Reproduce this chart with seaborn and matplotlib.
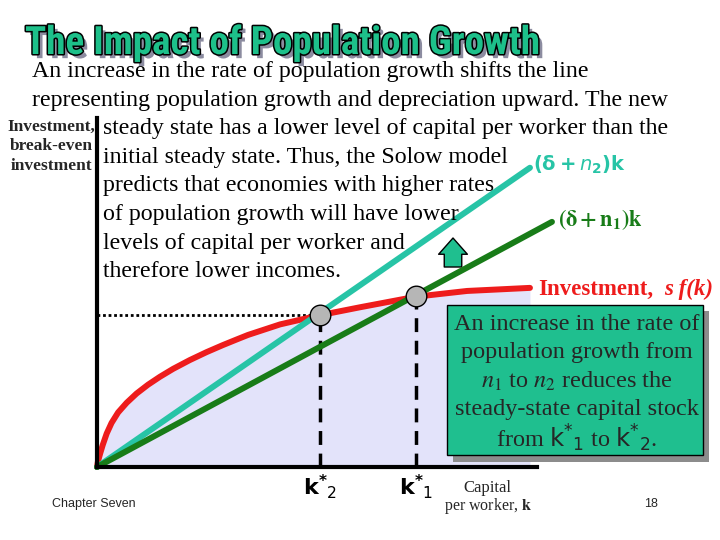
import numpy as np
import pandas as pd
import seaborn as sns
import matplotlib.pyplot as plt
import matplotlib.patheffects as pe
from matplotlib.patches import Rectangle
from matplotlib.transforms import Affine2D, blended_transform_factory

# Data (k on the x axis, axis drawn from 0 to 10)
curve_k = [0, 0.02, 0.07, 0.13, 0.22, 0.33, 0.48, 0.675, 0.9, 1.16, 1.43, 1.73,
           2.11, 2.49, 2.86, 3.18, 3.43, 4.16, 5.07, 5.98, 7.25, 8.41, 9.84]
curve_y = [0, 0.12, 0.30, 0.50, 0.76, 1.0, 1.24, 1.46, 1.67, 1.87, 2.05, 2.23,
           2.43, 2.61, 2.77, 2.90, 3.00, 3.24, 3.45, 3.63, 3.87, 4.00, 4.07]
n2_k = [0, 9.84]
n2_y = [0, 6.80]
n1_k = [0, 10.34]
n1_y = [0, 5.57]
ss_k = [5.07, 7.25]      # k*2, k*1
ss_y = [3.45, 3.89]
ss_labels = ["2", "1"]
x_max, y_max = 10, 7.93

body_lines = [
    "An increase in the rate of population growth shifts the line",
    "representing population growth and depreciation upward. The new",
    "steady state has a lower level of capital per worker than the",
    "initial steady state. Thus, the Solow model",
    "predicts that economies with higher rates",
    "of population growth will have lower",
    "levels of capital per worker and",
    "therefore lower incomes.",
]
box_lines = [
    "An increase in the rate of",
    "population growth from",
    r"$n_1$ to $n_2$ reduces the",
    "steady-state capital stock",
    r"from $\mathrm{k}{}^{*}{}_{1}$ to $\mathrm{k}{}^{*}{}_{2}$.",
]
ylabel_lines = ["Investment,", "break-even", "investment"]

red = "#ee1c1c"
teal = "#27c4a6"
green = "#187c18"
box_green = "#1fbf8f"
title_green = "#1dc08a"
lavender = "#e3e3fa"

sns.set_theme(style="white")
plt.rcParams["mathtext.fontset"] = "stix"
serif = ["Liberation Serif", "DejaVu Serif"]
narrow = ["Roboto Condensed", "Liberation Sans Narrow", "DejaVu Sans Condensed",
          "Liberation Sans", "DejaVu Sans"]

fig = plt.figure(figsize=(7.2, 5.4), dpi=100)
pix = Affine2D().scale(1 / 720, -1 / 540).translate(0, 1) + fig.transFigure

ax = fig.add_axes([97 / 720, 73 / 540, 440 / 720, 349 / 540])
ax.set_xlim(0, x_max)
ax.set_ylim(0, y_max)
ax.set_xticks([])
ax.set_yticks([])
ax.patch.set_alpha(0)
for side in ["top", "right"]:
    ax.spines[side].set_visible(False)
for side in ["left", "bottom"]:
    ax.spines[side].set_linewidth(3)
    ax.spines[side].set_color("black")
    ax.spines[side].set_zorder(6)

ax.fill_between(curve_k, curve_y, color=lavender, lw=0, zorder=0)
sns.lineplot(x=curve_k, y=curve_y, ax=ax, color=red, lw=4.3, zorder=3,
             clip_on=False, sort=False)
sns.lineplot(x=n2_k, y=n2_y, ax=ax, color=teal, lw=4.3, zorder=4, clip_on=False)
sns.lineplot(x=n1_k, y=n1_y, ax=ax, color=green, lw=4.3, zorder=4, clip_on=False)

ax.plot([0, ss_k[0]], [ss_y[0], ss_y[0]], color="black", lw=2,
        ls=(0, (1, 1)), zorder=2)
for k, y in zip(ss_k, ss_y):
    ax.plot([k, k], [0, y], color="black", lw=2.5, ls=(0, (4, 2.5)), zorder=2)
sns.scatterplot(x=ss_k, y=ss_y, ax=ax, s=220, color="#b6b6b6",
                edgecolor="black", linewidth=1, zorder=7, clip_on=False)

# k* labels under the axis
lab_tr = blended_transform_factory(ax.transData, pix)
for k, sub in zip(ss_k, ss_labels):
    ax.text(k, 487, r"$\mathbf{k}{}^{\mathbf{*}}{}_{\mathrm{%s}}$" % sub,
            transform=lab_tr, ha="center", va="center", fontsize=16,
            math_fontfamily="dejavusans", color="black")

# title, scaled to the width it has on the slide
title = fig.text(25, 54, "The Impact of Population Growth", transform=pix,
                 fontsize=36, fontweight="bold", family=narrow,
                 color=title_green, ha="left", va="baseline",
                 path_effects=[pe.withSimplePatchShadow(offset=(3, -3),
                                                        shadow_rgbFace="#8c8ca0", alpha=1),
                               pe.Stroke(linewidth=2.2, foreground="black"), pe.Normal()])
fig.canvas.draw()
title.set_fontsize(min(40, 36 * 515 / title.get_window_extent().width))

# body text
for i, line in enumerate(body_lines):
    x0 = 32 if i < 2 else 103
    fig.text(x0, 77 + i * 28.6, line, transform=pix, fontsize=17.2,
             family=serif, ha="left", va="baseline", color="black")

for i, line in enumerate(ylabel_lines):
    fig.text(51, 127 + i * 19.5, line, transform=pix, fontsize=12.5,
             fontweight="bold", family=serif, ha="center", va="center")

# line labels
fig.text(533, 165, r"$\mathbf{(\delta+}n_{\mathbf{2}}\mathbf{)k}$", transform=pix,
         fontsize=14, color=teal, ha="left", va="center",
         math_fontfamily="dejavusans")
fig.text(558, 220, r"$\mathbf{(\delta + n_1)k}$", transform=pix,
         fontsize=16, color=green, ha="left", va="center")
fig.text(538, 289, "Investment,", transform=pix, fontsize=16.5,
         fontweight="bold", family=serif, color=red, ha="left", va="center")
fig.text(664, 289, "s f(k)", transform=pix, fontsize=16.5, fontweight="bold",
         fontstyle="italic", family=serif, color=red, ha="left", va="center")

# arrow showing the shift
ax.annotate("", xy=(453, 238), xytext=(453, 267), xycoords=pix, textcoords=pix,
            arrowprops=dict(arrowstyle="simple,head_width=1.15,head_length=0.65,tail_width=0.7",
                            fc=box_green, ec="black", lw=1, mutation_scale=18,
                            shrinkA=0, shrinkB=0))

# explanation box with shadow
fig.patches.append(Rectangle((453, 311), 256, 151, transform=pix,
                             facecolor="#8c8c8c", edgecolor="none", zorder=8))
fig.patches.append(Rectangle((447, 305), 256, 150, transform=pix,
                             facecolor=box_green, edgecolor="black", lw=1, zorder=9))
for i, line in enumerate(box_lines):
    fig.text(577, 324 + i * 28.5, line, transform=pix, fontsize=17.5,
             family=serif, ha="center", va="center", zorder=10,
             math_fontfamily="dejavusans" if i == 4 else "stix")

# axis label and footer
fig.text(487, 488, "Capital", transform=pix, fontsize=12,
         family=serif, ha="center", va="center")
fig.text(488, 506, r"per worker, $\mathbf{k}$", transform=pix, fontsize=11.5,
         family=serif, ha="center", va="center")
fig.text(52, 504, "Chapter Seven", transform=pix, fontsize=9,
         family=narrow[1:], ha="left", va="center")
fig.text(651, 504, "18", transform=pix, fontsize=9,
         family=narrow[1:], ha="center", va="center")

fig.savefig("out.png", dpi=100, facecolor="white")
